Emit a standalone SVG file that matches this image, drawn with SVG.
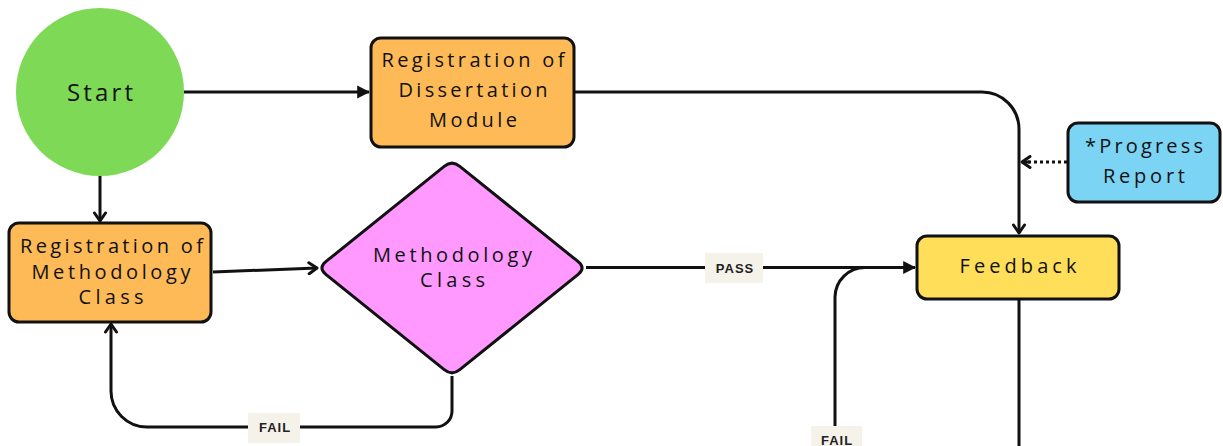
<svg xmlns="http://www.w3.org/2000/svg" width="1223" height="446" viewBox="0 0 1223 446">
<style>
.node{stroke:#111;stroke-width:3}
.t{font-family:"Open Sans","Liberation Sans",Arial,sans-serif;font-size:20px;fill:#111;text-anchor:middle}
.c{fill:none;stroke:#111;stroke-width:3}
.lb{fill:#F5F2EA}
.lt{font-family:"Liberation Sans",Arial,sans-serif;font-size:13px;font-weight:bold;fill:#222;text-anchor:middle;letter-spacing:1px}
</style>
<defs>
<marker id="tri" viewBox="0 0 12 14" refX="11" refY="7" markerWidth="13" markerHeight="15" markerUnits="userSpaceOnUse" orient="auto">
<path d="M0 1 L12 7 L0 13 Z" fill="#111"/>
</marker>
<marker id="chev" viewBox="0 0 12 14" refX="10" refY="7" markerWidth="12" markerHeight="14" markerUnits="userSpaceOnUse" orient="auto">
<path d="M2 1.5 L10 7 L2 12.5" fill="none" stroke="#111" stroke-width="3" stroke-linecap="round" stroke-linejoin="round"/>
</marker>
</defs>
<rect width="1223" height="446" fill="#fff"/>
<g id="connectors">
<path class="c" d="M184 92 H369" marker-end="url(#tri)"/>
<path class="c" d="M100 176 V221" marker-end="url(#chev)"/>
<path class="c" d="M213 272 L317 268" marker-end="url(#chev)"/>
<path class="c" d="M586 267.5 H915" marker-end="url(#tri)"/>
<path class="c" d="M575 92 H982 A37 37 0 0 1 1019 129 V233" marker-end="url(#chev)"/>
<path class="c" d="M1067 162 H1024" stroke-dasharray="3 3"/>
<path class="c" d="M1030 162 H1022" marker-end="url(#chev)"/>
<path class="c" d="M452 376 V411 A16 16 0 0 1 436 427 H147 A36 36 0 0 1 111 391 V324" marker-end="url(#chev)"/>
<path class="c" d="M835 446 V297 A30 30 0 0 1 865 267.5 H905"/>
<path class="c" d="M1019 299 V446"/>
<g id="label-pass"><rect class="lb" x="705" y="253" width="58" height="30"/><text class="lt" x="735" y="272.5">PASS</text></g>
<g id="label-fail1"><rect class="lb" x="248" y="413" width="52" height="30"/><text class="lt" x="275" y="431.5">FAIL</text></g>
<g id="label-fail2"><rect class="lb" x="811" y="426" width="51" height="30"/><text class="lt" x="837" y="445">FAIL</text></g>
</g>
<g id="start">
<circle cx="100" cy="92" r="84" fill="#7ED957"/>
<text class="t" x="100" y="100.5" style="font-size:24px" textLength="66" lengthAdjust="spacing">Start</text>
</g>
<g id="reg-dissertation">
<rect class="node" x="371" y="38" width="203" height="109" rx="10" fill="#FDBA57"/>
<text class="t" x="473" y="67" textLength="183" lengthAdjust="spacing">Registration of</text>
<text class="t" x="473" y="97" textLength="149" lengthAdjust="spacing">Dissertation</text>
<text class="t" x="473" y="127" textLength="88" lengthAdjust="spacing">Module</text>
</g>
<g id="reg-methodology">
<rect class="node" x="9" y="223" width="202" height="99" rx="10" fill="#FDBA57"/>
<text class="t" x="111.5" y="253" textLength="183" lengthAdjust="spacing">Registration of</text>
<text class="t" x="111" y="278.5" textLength="159" lengthAdjust="spacing">Methodology</text>
<text class="t" x="111" y="303.5" textLength="65" lengthAdjust="spacing">Class</text>
</g>
<g id="methodology-class">
<path class="node" fill="#FF99FF" stroke-linejoin="round" d="M444.2 166.3 Q452 160 459.8 166.3 L578.2 261.7 Q586 268 578.2 274.3 L459.8 369.7 Q452 376 444.2 369.7 L325.8 274.3 Q318 268 325.8 261.7 Z"/>
<text class="t" x="452.5" y="261.5" textLength="159" lengthAdjust="spacing">Methodology</text>
<text class="t" x="452.5" y="286.5" textLength="65" lengthAdjust="spacing">Class</text>
</g>
<g id="progress-report">
<rect class="node" x="1068" y="123" width="152" height="79" rx="10" fill="#7CD4F4"/>
<text class="t" x="1144" y="153" textLength="118" lengthAdjust="spacing">*Progress</text>
<text class="t" x="1144" y="182.5" textLength="82" lengthAdjust="spacing">Report</text>
</g>
<g id="feedback">
<rect class="node" x="917" y="236" width="202" height="63" rx="10" fill="#FFDE59"/>
<text class="t" x="1018" y="272.5" textLength="117" lengthAdjust="spacing">Feedback</text>
</g>
</svg>
